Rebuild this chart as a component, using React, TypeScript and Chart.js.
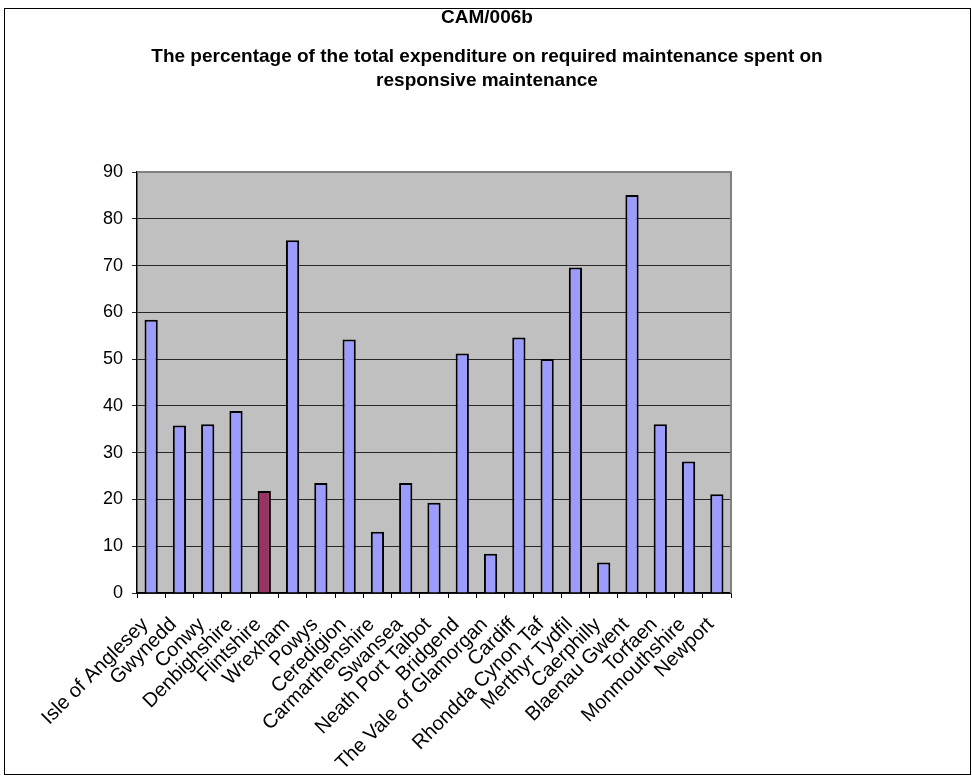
import React, { useEffect, useRef } from "react";
import { Chart, registerables } from "chart.js";

Chart.register(...registerables);

const authorities: string[] = [
  "Isle of Anglesey",
  "Gwynedd",
  "Conwy",
  "Denbighshire",
  "Flintshire",
  "Wrexham",
  "Powys",
  "Ceredigion",
  "Carmarthenshire",
  "Swansea",
  "Neath Port Talbot",
  "Bridgend",
  "The Vale of Glamorgan",
  "Cardiff",
  "Rhondda Cynon Taf",
  "Merthyr Tydfil",
  "Caerphilly",
  "Blaenau Gwent",
  "Torfaen",
  "Monmouthshire",
  "Newport",
];

const responsiveShare: number[] = [
  58.4, 35.8, 36.1, 38.9, 21.8, 75.4, 23.5, 54.2, 13.1, 23.5, 19.3, 51.2, 8.4,
  54.6, 50.0, 69.6, 6.5, 85.1, 36.1, 28.1, 21.1,
];

const highlighted = "Flintshire";

const titleLines: string[] = [
  "CAM/006b",
  "The percentage of the total expenditure on required maintenance spent on",
  "responsive maintenance",
];

const yTicks: number[] = [0, 10, 20, 30, 40, 50, 60, 70, 80, 90];

const FONT = "'Liberation Sans', Arial, sans-serif";

// Grey plot background, outer frame, plot border and the three-line heading.
const decorations = {
  id: "decorations",
  beforeDraw(chart: any) {
    const { ctx, chartArea } = chart;
    ctx.save();
    ctx.fillStyle = "#ffffff";
    ctx.fillRect(0, 0, chart.width, chart.height);
    ctx.fillStyle = "#c0c0c0";
    ctx.fillRect(
      chartArea.left,
      chartArea.top,
      chartArea.right - chartArea.left,
      chartArea.bottom - chartArea.top
    );
    ctx.restore();
  },
  afterDraw(chart: any) {
    const { ctx, chartArea } = chart;
    ctx.save();
    // outer frame
    ctx.strokeStyle = "#000000";
    ctx.lineWidth = 1;
    ctx.strokeRect(4.5, 8.5, 966, 766);
    // top and right edges of the plot area
    ctx.strokeStyle = "#808080";
    ctx.lineWidth = 2;
    ctx.beginPath();
    ctx.moveTo(chartArea.left, chartArea.top);
    ctx.lineTo(chartArea.right, chartArea.top);
    ctx.lineTo(chartArea.right, chartArea.bottom);
    ctx.stroke();
    // heading
    ctx.fillStyle = "#000000";
    ctx.font = `bold 19px ${FONT}`;
    ctx.textAlign = "center";
    ctx.textBaseline = "middle";
    const ys = [18, 57, 81];
    titleLines.forEach((t, i) => ctx.fillText(t, 487, ys[i]));
    ctx.restore();
  },
};

export default function App() {
  const canvasRef = useRef<HTMLCanvasElement | null>(null);

  useEffect(() => {
    if (!canvasRef.current) return;
    const chart = new Chart(canvasRef.current, {
      type: "bar",
      data: {
        labels: authorities,
        datasets: [
          {
            data: responsiveShare,
            backgroundColor: authorities.map((a) =>
              a === highlighted ? "#993366" : "#9c9cff"
            ),
            borderColor: "#000000",
            borderWidth: 2,
            borderSkipped: "bottom",
            categoryPercentage: 0.9,
            barPercentage: 0.52,
          },
        ],
      },
      options: {
        animation: false,
        responsive: false,
        devicePixelRatio: 1,
        layout: { padding: { top: 172, right: 241, left: 4, bottom: 2 } },
        plugins: {
          legend: { display: false },
          tooltip: { enabled: false },
          title: { display: false },
        },
        scales: {
          x: {
            offset: true,
            grid: {
              offset: true,
              drawOnChartArea: false,
              drawTicks: true,
              tickLength: 5,
              color: "#000000",
            },
            border: { color: "#000000", width: 1.5 },
            ticks: {
              color: "#000000",
              font: { family: FONT, size: 20 },
              minRotation: 45,
              maxRotation: 45,
              autoSkip: false,
              padding: 15,
              labelOffset: -6,
            },
            afterFit(scale: any) {
              scale.height = 776 - 593 - 2;
            },
          },
          y: {
            min: 0,
            max: 90,
            afterBuildTicks(scale: any) {
              scale.ticks = yTicks.map((v) => ({ value: v }));
            },
            grid: {
              color: "#262626",
              lineWidth: 1,
              drawTicks: true,
              tickLength: 5,
            },
            border: { color: "#000000", width: 1.5 },
            ticks: {
              color: "#000000",
              font: { family: FONT, size: 18 },
              padding: 9,
            },
            afterFit(scale: any) {
              scale.width = 137 - 4;
            },
          },
        },
      },
      plugins: [decorations],
    });
    return () => chart.destroy();
  }, []);

  return (
    <div style={{ position: "absolute", left: 0, top: 0 }}>
      <canvas ref={canvasRef} width={972} height={776} />
    </div>
  );
}
